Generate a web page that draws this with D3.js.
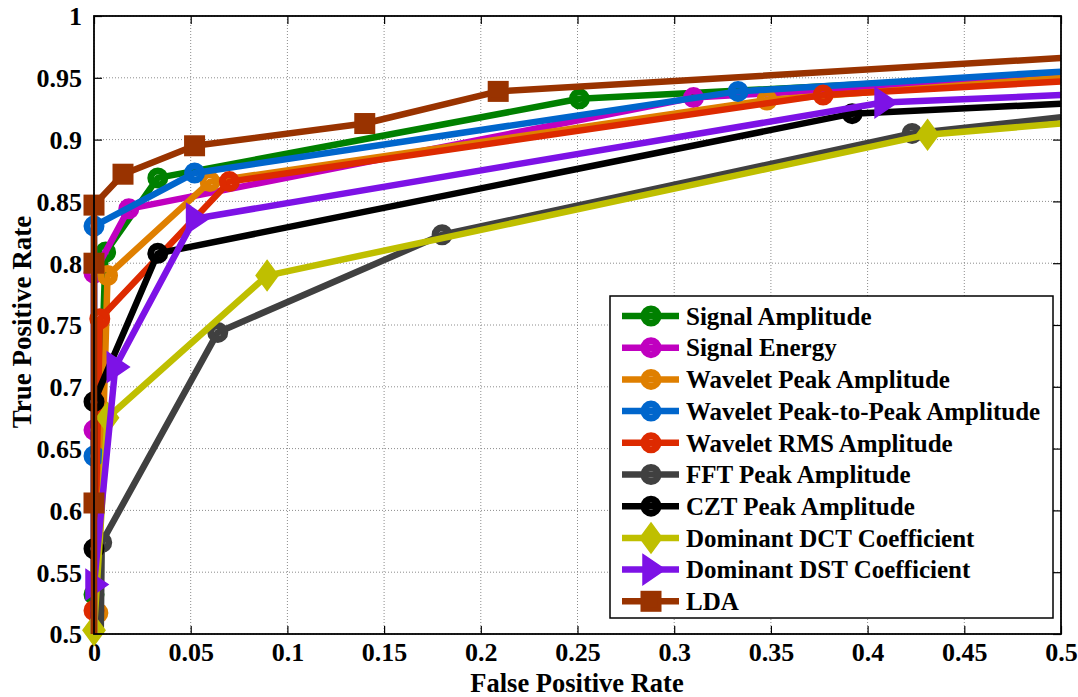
<!DOCTYPE html>
<html>
<head>
<meta charset="utf-8">
<script src="https://cdn.jsdelivr.net/npm/d3@7"></script>
<style>
  html, body { margin: 0; padding: 0; background: #fff; }
  svg text { font-family: "Liberation Serif", "Times New Roman", Times, serif !important; font-weight: bold; fill: #000; }
</style>
</head>
<body>
<svg id="chart" width="1078" height="697"></svg>
<script>
// ROC curves of the feature extractors: false positive rate vs true positive rate
const seriesNames = [
  "Signal Amplitude", "Signal Energy", "Wavelet Peak Amplitude",
  "Wavelet Peak-to-Peak Amplitude", "Wavelet RMS Amplitude", "FFT Peak Amplitude",
  "CZT Peak Amplitude", "Dominant DCT Coefficient", "Dominant DST Coefficient", "LDA"
];

const signalAmplitudeFPR = [0, 0, 0.006, 0.033, 0.251, 0.5];
const signalAmplitudeTPR = [0, 0.532, 0.809, 0.869, 0.933, 0.953];

const signalEnergyFPR = [0, 0, 0, 0.018, 0.31, 0.5];
const signalEnergyTPR = [0, 0.665, 0.792, 0.844, 0.934, 0.951];

const waveletPeakFPR = [0, 0.002, 0.007, 0.06, 0.348, 0.5];
const waveletPeakTPR = [0, 0.517, 0.79, 0.866, 0.932, 0.95];

const waveletP2PFPR = [0, 0, 0, 0.052, 0.333, 0.5];
const waveletP2PTPR = [0, 0.644, 0.83, 0.873, 0.939, 0.955];

const waveletRMSFPR = [0, 0, 0.003, 0.07, 0.377, 0.5];
const waveletRMSTPR = [0, 0.519, 0.755, 0.866, 0.936, 0.947];

const fftPeakFPR = [0, 0.004, 0.064, 0.18, 0.423, 0.5];
const fftPeakTPR = [0, 0.574, 0.744, 0.823, 0.905, 0.918];

const cztPeakFPR = [0, 0, 0, 0.033, 0.392, 0.5];
const cztPeakTPR = [0, 0.569, 0.688, 0.808, 0.921, 0.929];

const dctFPR = [0, 0, 0.007, 0.0895, 0.431, 0.5];
const dctTPR = [0, 0.503, 0.675, 0.79, 0.904, 0.913];

const dstFPR = [0, 0, 0.011, 0.052, 0.408, 0.5];
const dstTPR = [0, 0.54, 0.716, 0.836, 0.93, 0.936];

const ldaFPR = [0, 0, 0, 0, 0.015, 0.052, 0.14, 0.209, 0.5];
const ldaTPR = [0, 0.606, 0.8, 0.847, 0.872, 0.895, 0.913, 0.939, 0.966];

const xTickLabels = ["0", "0.05", "0.1", "0.15", "0.2", "0.25", "0.3", "0.35", "0.4", "0.45", "0.5"];
const yTickLabels = ["0.5", "0.55", "0.6", "0.65", "0.7", "0.75", "0.8", "0.85", "0.9", "0.95", "1"];

const seriesColors = ["#008000", "#c000c0", "#df7f00", "#0066cc", "#dd2a00",
                      "#404040", "#000000", "#bfbf00", "#7d12e6", "#993300"];
const seriesMarkers = ["circle", "circle", "circle", "circle", "circle",
                       "circle", "circle", "diamond", "triangle", "square"];

const fprs = [signalAmplitudeFPR, signalEnergyFPR, waveletPeakFPR, waveletP2PFPR, waveletRMSFPR,
              fftPeakFPR, cztPeakFPR, dctFPR, dstFPR, ldaFPR];
const tprs = [signalAmplitudeTPR, signalEnergyTPR, waveletPeakTPR, waveletP2PTPR, waveletRMSTPR,
              fftPeakTPR, cztPeakTPR, dctTPR, dstTPR, ldaTPR];

const series = seriesNames.map((name, i) => ({
  name,
  color: seriesColors[i],
  marker: seriesMarkers[i],
  points: fprs[i].map((v, j) => ({ x: v, y: tprs[i][j] }))
}));

const svg = d3.select("#chart");
const plotLeft = 94, plotRight = 1061, plotTop = 16, plotBottom = 634;
const serif = "'Liberation Serif', 'Times New Roman', Times, serif";

const x = d3.scaleLinear().domain([0, 0.5]).range([plotLeft, plotRight]);
const y = d3.scaleLinear().domain([0.5, 1]).range([plotBottom, plotTop]);

const xTicks = xTickLabels.map(Number);
const yTicks = yTickLabels.map(Number);

// dotted grid
const grid = svg.append("g");
grid.selectAll("line.gx").data(xTicks).join("line").attr("class", "gx")
  .attr("x1", d => x(d)).attr("x2", d => x(d)).attr("y1", plotTop).attr("y2", plotBottom)
  .attr("stroke", "#8c8c8c").attr("stroke-width", 1).attr("stroke-dasharray", "1,2");
grid.selectAll("line.gy").data(yTicks).join("line").attr("class", "gy")
  .attr("x1", plotLeft).attr("x2", plotRight).attr("y1", d => y(d)).attr("y2", d => y(d))
  .attr("stroke", "#8c8c8c").attr("stroke-width", 1).attr("stroke-dasharray", "1,2");

// axes with inward ticks on all four sides
const tickLen = 8;
const axisBottom = d3.axisBottom(x).tickValues(xTicks).tickSize(-tickLen).tickPadding(11)
  .tickFormat((d, i) => xTickLabels[i]);
const axisLeft = d3.axisLeft(y).tickValues(yTicks).tickSize(-tickLen).tickPadding(12)
  .tickFormat((d, i) => yTickLabels[i]);
const axisTop = d3.axisTop(x).tickValues(xTicks).tickSize(-tickLen).tickFormat("");
const axisRight = d3.axisRight(y).tickValues(yTicks).tickSize(-tickLen).tickFormat("");

function styleAxis(g) {
  g.select(".domain").remove();
  g.attr("font-family", serif).attr("font-size", 26);
  g.selectAll(".tick line").attr("stroke", "#000").attr("stroke-width", 1.2);
  g.selectAll(".tick text").attr("font-family", serif).attr("font-size", 26).attr("font-weight", "bold");
}
svg.append("g").attr("transform", `translate(0,${plotBottom})`).call(axisBottom).call(styleAxis)
  .selectAll(".tick text").attr("dy", "0.6em");
svg.append("g").attr("transform", `translate(${plotLeft},0)`).call(axisLeft).call(styleAxis)
  .selectAll(".tick text").attr("dy", "0.34em");
svg.append("g").attr("transform", `translate(0,${plotTop})`).call(axisTop).call(styleAxis);
svg.append("g").attr("transform", `translate(${plotRight},0)`).call(axisRight).call(styleAxis);

// plot clipping for the curves
svg.append("clipPath").attr("id", "plotClip").append("rect")
  .attr("x", plotLeft - 6).attr("y", plotTop)
  .attr("width", plotRight - plotLeft + 6).attr("height", plotBottom - plotTop);

const line = d3.line().x(d => x(d.x)).y(d => y(d.y));

function drawMarker(sel, type, color) {
  if (type === "circle") {
    sel.append("circle").attr("r", 7).attr("fill", "none")
      .attr("stroke", color).attr("stroke-width", 7);
  } else if (type === "square") {
    sel.append("rect").attr("x", -8.5).attr("y", -8.5).attr("width", 17).attr("height", 17)
      .attr("fill", color).attr("stroke", color).attr("stroke-width", 4);
  } else if (type === "diamond") {
    sel.append("path").attr("d", "M0,-15L11,0L0,15L-11,0Z").attr("fill", color)
      .attr("stroke", color).attr("stroke-width", 1.5);
  } else if (type === "triangle") {
    sel.append("path").attr("d", "M-8,-15L14,0L-8,15Z").attr("fill", color)
      .attr("stroke", color).attr("stroke-width", 1.5);
  }
}

const curves = svg.append("g");
series.forEach(s => {
  const g = curves.append("g");
  g.append("path").datum(s.points).attr("d", line)
    .attr("clip-path", "url(#plotClip)")
    .attr("fill", "none").attr("stroke", s.color).attr("stroke-width", 6.5)
    .attr("stroke-linejoin", "round").attr("stroke-linecap", "butt");
  s.points.filter(p => p.x < 0.5 && p.y > 0.5).forEach(p => {
    const m = g.append("g").attr("transform", `translate(${x(p.x)},${y(p.y)})`);
    drawMarker(m, s.marker, s.color);
  });
});

// axes box
svg.append("rect").attr("x", plotLeft).attr("y", plotTop)
  .attr("width", plotRight - plotLeft).attr("height", plotBottom - plotTop)
  .attr("fill", "none").attr("stroke", "#000").attr("stroke-width", 1.8);

// axis titles
svg.append("text").attr("x", 577).attr("y", 692).attr("text-anchor", "middle")
  .attr("font-family", serif).attr("font-size", 26.5).text("False Positive Rate");
svg.append("text").attr("transform", `translate(31,322) rotate(-90)`)
  .attr("text-anchor", "middle").attr("font-family", serif).attr("font-size", 27).text("True Positive Rate");

// legend
const legend = svg.append("g");
legend.append("rect").attr("x", 610).attr("y", 296).attr("width", 443).attr("height", 322)
  .attr("fill", "#fff").attr("stroke", "#000").attr("stroke-width", 1.5);
series.forEach((s, i) => {
  const ly = 316 + i * 31.7;
  legend.append("line").attr("x1", 622).attr("x2", 679).attr("y1", ly).attr("y2", ly)
    .attr("stroke", s.color).attr("stroke-width", 6.5);
  const m = legend.append("g").attr("transform", `translate(651,${ly})`);
  drawMarker(m, s.marker, s.color);
  legend.append("text").attr("x", 686).attr("y", ly).attr("dy", "0.35em")
    .attr("font-family", serif).attr("font-size", 25).text(s.name);
});
</script>
</body>
</html>
